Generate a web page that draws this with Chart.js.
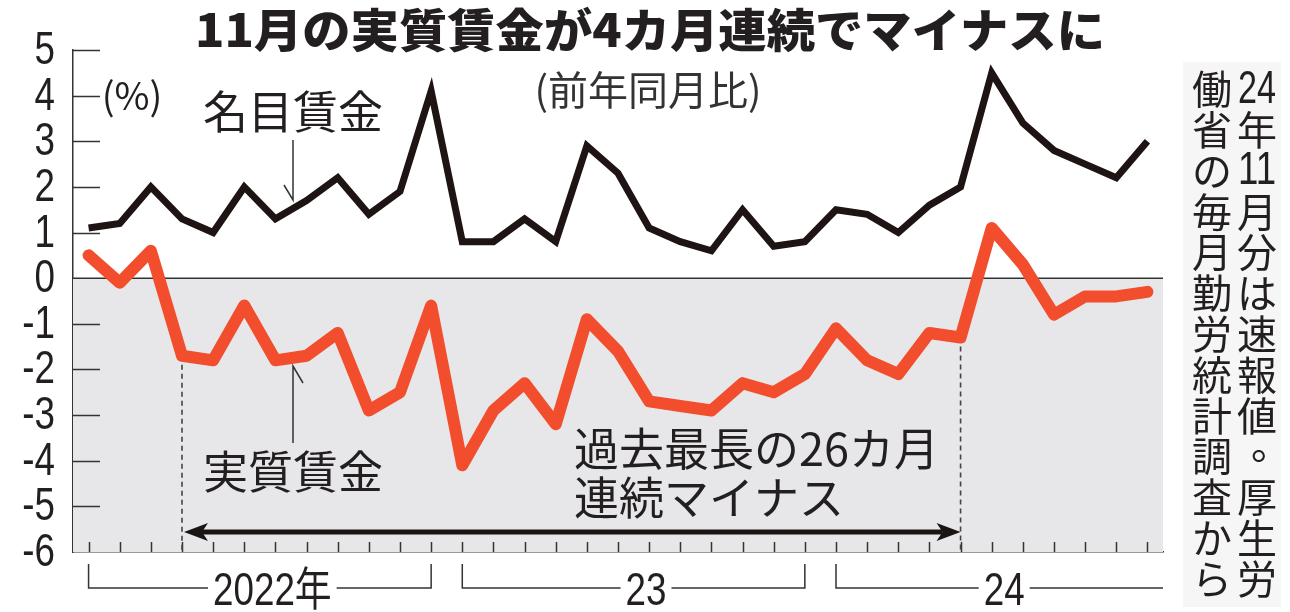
<!DOCTYPE html>
<html lang="ja">
<head>
<meta charset="utf-8">
<script src="https://cdn.jsdelivr.net/npm/chart.js@4.4.7/dist/chart.umd.min.js"></script>
<style>
  html, body { margin: 0; padding: 0; background: #fff; }
</style>
</head>
<body>
<canvas id="chart" width="1290" height="612"></canvas>
<script>
// 前年同月比（%）、2022年1月〜2024年11月
const months = [
  "2022/1", "2022/2", "2022/3", "2022/4", "2022/5", "2022/6", "2022/7", "2022/8", "2022/9", "2022/10", "2022/11", "2022/12",
  "2023/1", "2023/2", "2023/3", "2023/4", "2023/5", "2023/6", "2023/7", "2023/8", "2023/9", "2023/10", "2023/11", "2023/12",
  "2024/1", "2024/2", "2024/3", "2024/4", "2024/5", "2024/6", "2024/7", "2024/8", "2024/9", "2024/10", "2024/11"
]
const nominalWages = [
  1.1, 1.2, 2.0, 1.3, 1.0, 2.0, 1.3, 1.7, 2.2, 1.4, 1.9, 4.1,
  0.8, 0.8, 1.3, 0.8, 2.9, 2.3, 1.1, 0.8, 0.6, 1.5, 0.7, 0.8,
  1.5, 1.4, 1.0, 1.6, 2.0, 4.5, 3.4, 2.8, 2.5, 2.2, 3.0
]
const realWages = [
  0.5, -0.1, 0.6, -1.7, -1.8, -0.6, -1.8, -1.7, -1.2, -2.9, -2.5, -0.6,
  -4.1, -2.9, -2.3, -3.2, -0.9, -1.6, -2.7, -2.8, -2.9, -2.3, -2.5, -2.1,
  -1.1, -1.8, -2.1, -1.2, -1.3, 1.1, 0.3, -0.8, -0.4, -0.4, -0.3
]
const yMin = -6
const yMax = 5
const yearLabels = ["2022年", "23", "24"]
const yearStart = [0, 12, 24]
const yearEnd = [11, 23, 34]
// 過去最長の26カ月連続マイナス（2022年4月〜2024年5月）
const streakStart = 3
const streakEnd = 28

const JP = '"Noto Sans CJK JP", sans-serif'
const NUM = '"Liberation Sans", "Noto Sans CJK JP", sans-serif'
const INK = "#231f20"

function fitText(ctx, text, cx, cy, width) {
  const w = ctx.measureText(text).width
  ctx.save()
  ctx.translate(cx, cy)
  ctx.scale(width / w, 1)
  ctx.fillText(text, 0, 0)
  ctx.restore()
}

// 長体（横方向に縮めた文字）
function narrowText(ctx, text, px, py, sx) {
  ctx.save()
  ctx.translate(px, py)
  ctx.scale(sx, 1)
  ctx.fillText(text, 0, 0)
  ctx.restore()
}

function arrowHead(ctx, tipX, tipY, dir) {
  ctx.beginPath()
  ctx.moveTo(tipX, tipY)
  ctx.lineTo(tipX - dir * 24, tipY - 9)
  ctx.lineTo(tipX - dir * 18, tipY)
  ctx.lineTo(tipX - dir * 24, tipY + 9)
  ctx.closePath()
  ctx.fill()
}

const decor = {
  id: "decor",
  beforeDatasetsDraw(chart) {
    const { ctx, chartArea: a, scales: { x, y } } = chart
    ctx.save()

    // マイナス領域の網掛け
    const y0 = y.getPixelForValue(0)
    const yb = y.getPixelForValue(yMin)
    ctx.fillStyle = "#e7e7e9"
    ctx.fillRect(a.left, y0, a.right - a.left, yb - y0)

    // ゼロ線
    ctx.strokeStyle = "#333"
    ctx.lineWidth = 1.5
    ctx.beginPath()
    ctx.moveTo(a.left, y0)
    ctx.lineTo(a.right, y0)
    ctx.stroke()

    // 縦軸の目盛りと数値（内向きの目盛り、長体の数字）
    ctx.fillStyle = INK
    ctx.font = "46px " + NUM
    ctx.textAlign = "right"
    ctx.textBaseline = "middle"
    y.ticks.forEach(t => {
      const py = Math.round(y.getPixelForValue(t.value)) + 0.5
      narrowText(ctx, String(t.value), 55, py + 1, 0.8)
      if (t.value === yMin || t.value === 0) return
      ctx.beginPath()
      ctx.moveTo(a.left, py)
      ctx.lineTo(a.left + 27, py)
      ctx.stroke()
    })
    months.forEach((m, i) => {
      const px = Math.round(x.getPixelForValue(i)) + 0.5
      ctx.beginPath()
      ctx.moveTo(px, a.bottom)
      ctx.lineTo(px, a.bottom - 10)
      ctx.stroke()
    })

    // 連続マイナス期間の点線
    ctx.strokeStyle = "#444"
    ctx.lineWidth = 1.6
    ctx.setLineDash([5, 4])
    ;[streakStart, streakEnd].forEach(i => {
      const px = x.getPixelForValue(i)
      ctx.beginPath()
      ctx.moveTo(px, y.getPixelForValue(realWages[i]))
      ctx.lineTo(px, a.bottom)
      ctx.stroke()
    })
    ctx.setLineDash([])

    // 年の括弧
    ctx.strokeStyle = "#333"
    ctx.lineWidth = 1.5
    ctx.fillStyle = INK
    ctx.font = "46px " + NUM
    ctx.textAlign = "center"
    ctx.textBaseline = "middle"
    const by = 588
    const step = x.getPixelForValue(1) - x.getPixelForValue(0)
    yearLabels.forEach((lab, k) => {
      const xs = x.getPixelForValue(yearStart[k])
      const open = yearEnd[k] === months.length - 1
      const xe = open ? a.right : x.getPixelForValue(yearEnd[k])
      const cx = (xs + (open ? x.getPixelForValue(yearEnd[k]) : xe)) / 2 + step * 0.4
      const w = ctx.measureText(lab).width * 0.8
      ctx.beginPath()
      ctx.moveTo(xs, 564)
      ctx.lineTo(xs, by)
      ctx.lineTo(cx - w / 2 - 5, by)
      ctx.moveTo(cx + w / 2 + 5, by)
      ctx.lineTo(xe, by)
      if (!open) ctx.lineTo(xe, 564)
      ctx.stroke()
      narrowText(ctx, lab, cx, by + 4, 0.8)
    })
    ctx.restore()
  },
  afterDatasetsDraw(chart) {
    const { ctx, scales: { x, y } } = chart
    ctx.save()
    ctx.fillStyle = INK
    ctx.textAlign = "center"
    ctx.textBaseline = "middle"

    // 見出し
    ctx.font = "900 46px " + JP
    fitText(ctx, "11月の実質賃金が4カ月連続でマイナスに", 650, 30, 910)

    ctx.font = "40px " + JP
    ctx.fillStyle = "#333"
    ctx.fillText("(前年同月比)", 648, 90)
    ctx.fillStyle = INK
    ctx.font = "38px " + JP
    ctx.fillText("(%)", 132, 96)

    // 系列名と引き出し線
    ctx.font = "45px " + JP
    ctx.fillText("名目賃金", 293, 112)
    ctx.fillText("実質賃金", 293, 472)
    ctx.strokeStyle = "#333"
    ctx.lineWidth = 1.5
    ctx.beginPath()
    ctx.moveTo(293, 140)
    ctx.lineTo(293, 200)
    ctx.lineTo(284, 185)
    ctx.moveTo(293, 443)
    ctx.lineTo(293, 366)
    ctx.lineTo(303, 383)
    ctx.stroke()

    // 過去最長の26カ月連続マイナス
    ctx.textAlign = "left"
    ctx.fillText("過去最長の26カ月", 574, 449)
    ctx.fillText("連続マイナス", 574, 498)

    const ay = 532
    const xl = x.getPixelForValue(streakStart) + 2
    const xr = x.getPixelForValue(streakEnd)
    ctx.strokeStyle = "#1a1414"
    ctx.fillStyle = "#1a1414"
    ctx.lineWidth = 5
    ctx.beginPath()
    ctx.moveTo(xl + 18, ay)
    ctx.lineTo(xr - 18, ay)
    ctx.stroke()
    arrowHead(ctx, xl, ay, -1)
    arrowHead(ctx, xr, ay, 1)

    // 出典（縦書き）
    ctx.fillStyle = "#f6f6f6"
    ctx.fillRect(1183, 62, 98, 545)
    ctx.fillStyle = INK
    ctx.textAlign = "center"
    const colR = ["24", "年", "11", "月", "分", "は", "速", "報", "値", "。", "厚", "生", "労"]
    const colL = ["働", "省", "の", "毎", "月", "勤", "労", "統", "計", "調", "査", "か", "ら"]
    const pitch = 40.8
    const drawCol = (cells, cx) => {
      cells.forEach((c, i) => {
        const cy = 89 + i * pitch
        if (/^\d+$/.test(c)) {
          ctx.font = "46px " + NUM
          fitText(ctx, c, cx, cy + 1, 38)
        } else if (c === "。") {
          ctx.font = "40px " + JP
          ctx.fillText(c, cx + 14, cy - 12)
        } else {
          ctx.font = "40px " + JP
          ctx.fillText(c, cx, cy)
        }
      })
    }
    drawCol(colR, 1257)
    drawCol(colL, 1212)
    ctx.restore()
  }
}

new Chart(document.getElementById("chart"), {
  type: "line",
  data: {
    labels: months,
    datasets: [
      {
        label: "名目賃金",
        data: nominalWages,
        borderColor: "#1e1414",
        borderWidth: 7,
        borderJoinStyle: "miter",
        pointRadius: 0,
        tension: 0
      },
      {
        label: "実質賃金",
        data: realWages,
        borderColor: "#f24e2e",
        borderWidth: 12,
        borderJoinStyle: "round",
        borderCapStyle: "round",
        pointRadius: 0,
        tension: 0
      }
    ]
  },
  options: {
    responsive: false,
    devicePixelRatio: 1,
    animation: false,
    layout: { padding: { top: 50, right: 127, bottom: 0, left: 0 } },
    plugins: {
      legend: { display: false },
      tooltip: { enabled: false }
    },
    scales: {
      x: {
        type: "category",
        offset: true,
        grid: { display: false, drawTicks: false },
        ticks: { display: false },
        border: { display: true, color: "#333", width: 1.5 },
        afterFit: s => { s.height = 60 }
      },
      y: {
        min: yMin,
        max: yMax,
        grid: { display: false, drawTicks: false },
        border: { display: true, color: "#333", width: 1.5 },
        ticks: {
          display: false,
          stepSize: 1,
          autoSkip: false
        },
        afterFit: s => { s.width = 73 }
      }
    }
  },
  plugins: [decor]
})
</script>
</body>
</html>
